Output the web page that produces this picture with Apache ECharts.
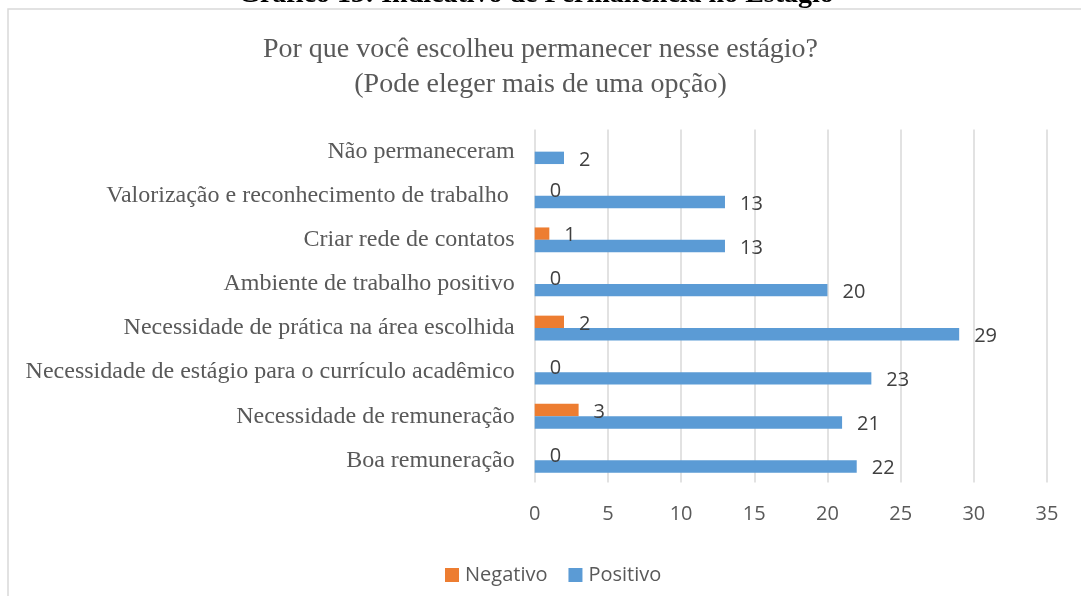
<!DOCTYPE html>
<html>
<head>
<meta charset="utf-8">
<script src="https://cdn.jsdelivr.net/npm/echarts@6/dist/echarts.min.js"></script>
<style>
  html, body { margin: 0; padding: 0; background: #fff; }
  #chart { width: 1081px; height: 596px; }
</style>
</head>
<body>
<div id="chart"></div>
<script>
// categorias (de baixo para cima, como no gráfico)
const categorias = [
  "Boa remuneração",
  "Necessidade de remuneração",
  "Necessidade de estágio para o currículo acadêmico",
  "Necessidade de prática na área escolhida",
  "Ambiente de trabalho positivo",
  "Criar rede de contatos",
  "Valorização e reconhecimento de trabalho ",
  "Não permaneceram"
];
// respostas negativas (sem valor para "Não permaneceram")
const negativo = [0, 3, 0, 2, 0, 1, 0, null];
// respostas positivas
const positivo = [22, 21, 23, 29, 20, 13, 13, 2];
const ticksX = [0, 5, 10, 15, 20, 25, 30, 35];

const cinza = "#595959";
const fonteSans = "'Open Sans', 'Noto Sans', sans-serif";
const fonteSerif = "'Liberation Serif', 'DejaVu Serif', serif";

const chart = echarts.init(document.getElementById("chart"));

const rotulo = {
  show: true,
  position: "right",
  distance: 15,
  offset: [0, 2],
  color: "#404040",
  fontFamily: fonteSans,
  fontSize: 20
};

chart.setOption({
  animation: false,
  backgroundColor: "#fff",
  title: {
    text: "Por que você escolheu permanecer nesse estágio?\n(Pode eleger mais de uma opção)",
    left: "center",
    top: 27,
    textStyle: {
      color: cinza,
      fontFamily: fonteSerif,
      fontWeight: "normal",
      fontSize: 28,
      lineHeight: 35
    }
  },
  graphic: [
    {
      type: "rect",
      shape: { x: 8, y: 9, width: 1200, height: 700 },
      style: { fill: "none", stroke: "#d9d9d9", lineWidth: 1.5 },
      silent: true
    },
    {
      type: "text",
      x: 536,
      y: -19,
      style: {
        text: "Gráfico 13: Indicativo de Permanência no Estágio",
        fill: "#000",
        align: "center",
        verticalAlign: "top",
        font: "bold 28px " + fonteSerif
      },
      silent: true
    }
  ],
  legend: {
    left: 440,
    top: 560,
    itemWidth: 14,
    itemHeight: 14,
    itemGap: 21,
    icon: "rect",
    textStyle: { color: cinza, fontFamily: fonteSans, fontSize: 20, padding: [0, 0, 0, 1] },
    data: ["Negativo", "Positivo"]
  },
  grid: {
    left: 534.7,
    right: 34,
    top: 129.6,
    bottom: 113.6,
    containLabel: false
  },
  xAxis: {
    type: "value",
    min: ticksX[0],
    max: ticksX[ticksX.length - 1],
    interval: 5,
    axisLine: { show: false },
    axisTick: { show: false },
    axisLabel: {
      color: cinza,
      fontFamily: fonteSans,
      fontSize: 20,
      margin: 22
    },
    splitLine: { lineStyle: { color: "#d9d9d9", width: 1.5 } }
  },
  yAxis: {
    type: "category",
    data: categorias,
    axisLine: { show: false },
    axisTick: { show: false },
    axisLabel: {
      color: cinza,
      fontFamily: fonteSerif,
      fontSize: 24,
      margin: 20
    }
  },
  series: [
    {
      name: "Negativo",
      type: "bar",
      data: negativo,
      barWidth: 12.4,
      barGap: "0%",
      itemStyle: { color: "#ed7d31" },
      label: rotulo
    },
    {
      name: "Positivo",
      type: "bar",
      data: positivo,
      barWidth: 12.4,
      barGap: "0%",
      itemStyle: { color: "#5b9bd5" },
      label: rotulo
    }
  ]
});
</script>
</body>
</html>
